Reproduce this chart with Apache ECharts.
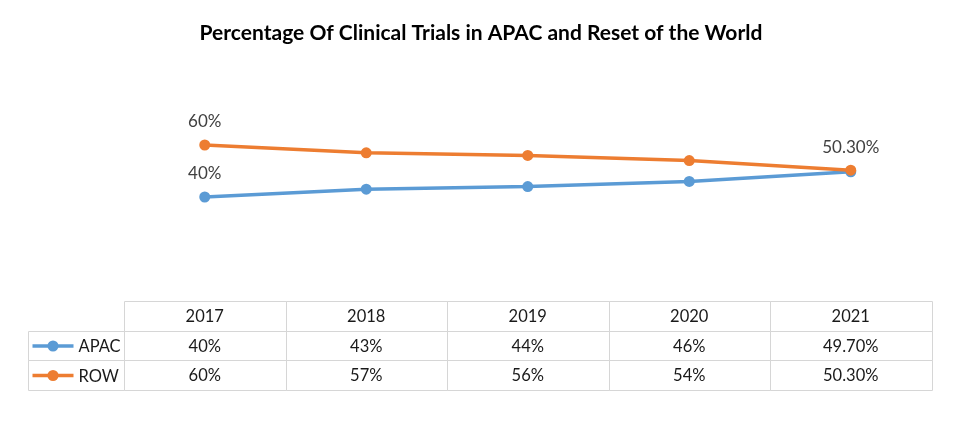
<!DOCTYPE html>
<html><head><meta charset="utf-8">
<script src="https://cdn.jsdelivr.net/npm/echarts@6/dist/echarts.min.js"></script>
<style>html,body{margin:0;padding:0;background:#fff}#c{width:962px;height:422px}</style>
</head><body><div id="c"></div>
<script>
// ---- data ----
const titleText = 'Percentage Of Clinical Trials in APAC and Reset of the World';
const years = ['2017', '2018', '2019', '2020', '2021'];
const seriesNames = ['APAC', 'ROW'];
const apacValues = [40, 43, 44, 46, 49.7];
const rowValues = [60, 57, 56, 54, 50.3];
const apacText = ['40%', '43%', '44%', '46%', '49.70%'];
const rowText = ['60%', '57%', '56%', '54%', '50.30%'];
const apacLabelled = [0];
const rowLabelled = [0, 4];

// ---- styles ----
const colors = ['#5b9bd5', '#ed7d31'];
const FONT = 'Lato';
const BORDER = '#d6d6d6';
const LABEL_COL_W = 96;

const values = [apacValues, rowValues];
const texts = [apacText, rowText];
const labelled = [apacLabelled, rowLabelled];

// table cells
const cells = [];
years.forEach((y, i) => cells.push({ c: i, r: 0, text: y }));
seriesNames.forEach((n, s) => {
  cells.push({ c: 0, r: s + 1, text: n, label: true, color: colors[s] });
  texts[s].forEach((t, i) => cells.push({ c: i, r: s + 1, text: t }));
});

function renderCell(params, api) {
  const d = cells[params.dataIndex];
  const p = api.coord([d.c, d.r]);
  const sz = api.size([1, 1]);
  const w = sz[0], h = sz[1];
  let x1 = Math.round(p[0] - w / 2) + 0.5;
  let x2 = Math.round(p[0] + w / 2) + 0.5;
  const y1 = Math.round(p[1] - h / 2) + 0.5;
  const y2 = Math.round(p[1] + h / 2) + 0.5;
  const children = [];
  if (d.label) {
    x2 = x1;
    x1 = x1 - LABEL_COL_W;
    const cy = (y1 + y2) / 2;
    children.push({ type: 'rect', shape: { x: x1, y: y1, width: x2 - x1, height: y2 - y1 }, style: { fill: 'none', stroke: BORDER, lineWidth: 1 } });
    children.push({ type: 'line', shape: { x1: x1 + 4, y1: cy, x2: x1 + 45, y2: cy }, style: { stroke: d.color, lineWidth: 3.5 } });
    children.push({ type: 'circle', shape: { cx: x1 + 24.5, cy: cy, r: 5.5 }, style: { fill: d.color } });
    children.push({ type: 'text', style: { x: x1 + 50, y: cy + 1, text: d.text, fill: '#1a1a1a', font: '16.5px ' + FONT, verticalAlign: 'middle', align: 'left' } });
  } else {
    children.push({ type: 'rect', shape: { x: x1, y: y1, width: x2 - x1, height: y2 - y1 }, style: { fill: 'none', stroke: BORDER, lineWidth: 1 } });
    children.push({ type: 'text', style: { x: p[0], y: p[1] + 1, text: d.text, fill: '#1a1a1a', font: '16.5px ' + FONT, verticalAlign: 'middle', align: 'center' } });
  }
  return { type: 'group', children: children };
}

const chart = echarts.init(document.getElementById('c'));
chart.setOption({
  animation: false,
  backgroundColor: '#fff',
  title: {
    text: titleText, left: 'center', top: 18,
    textStyle: { fontFamily: FONT, fontWeight: 'bold', fontSize: 21, color: '#000' }
  },
  grid: [
    { left: 124, right: 30.5, top: 41, bottom: 121 },
    { left: 124, right: 30.5, top: 301, height: 89 }
  ],
  xAxis: [
    { type: 'category', data: years, gridIndex: 0, boundaryGap: true, show: false },
    { type: 'category', data: years, gridIndex: 1, boundaryGap: true, show: false }
  ],
  yAxis: [
    { type: 'value', min: 0, max: 100, gridIndex: 0, show: false },
    { type: 'category', data: ['', 'APAC', 'ROW'], gridIndex: 1, inverse: true, show: false }
  ],
  series: seriesNames.map((n, s) => ({
    name: n, type: 'line', xAxisIndex: 0, yAxisIndex: 0,
    symbol: 'circle', symbolSize: 11,
    itemStyle: { color: colors[s] },
    lineStyle: { color: colors[s], width: 3.5 },
    data: values[s].map((v, i) => ({
      value: v,
      label: {
        show: labelled[s].indexOf(i) >= 0, position: 'top', distance: 9,
        formatter: texts[s][i], fontFamily: FONT, fontSize: 17, color: '#404040'
      }
    })),
    z: 2 + s
  })).concat([{
    type: 'custom', xAxisIndex: 1, yAxisIndex: 1,
    renderItem: renderCell,
    data: cells.map(d => [d.c, d.r]),
    silent: true
  }])
});
</script>
</body></html>
